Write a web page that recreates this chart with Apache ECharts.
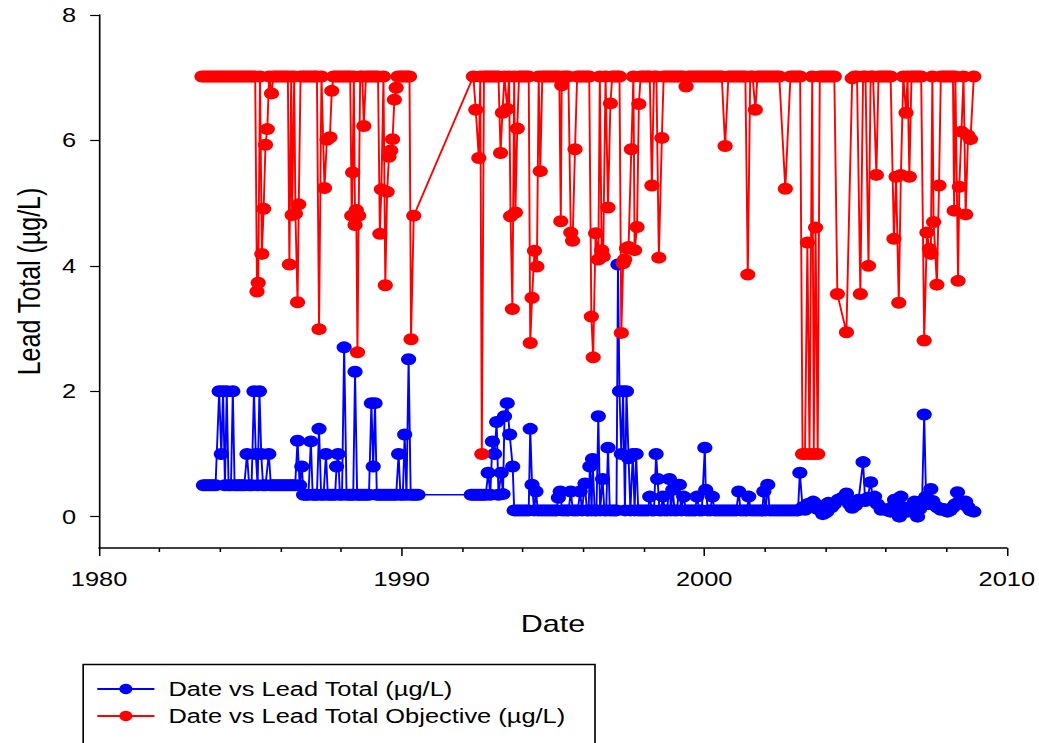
<!DOCTYPE html>
<html>
<head>
<meta charset="utf-8">
<script src="https://cdn.jsdelivr.net/npm/echarts@6/dist/echarts.min.js"></script>
<style>
html,body{margin:0;padding:0;background:#fff;}
#wrap{width:1039px;height:743px;overflow:hidden;position:relative;background:#fff;}
#chart{width:818px;height:743px;transform:scaleX(1.27);transform-origin:0 0;}
</style>
</head>
<body>
<div id="wrap"><div id="chart"></div></div>
<script>
// ---- Data (decimal year, µg/L) ----
const xTickValues = [1980, 1990, 2000, 2010];
const yTickValues = [0, 2, 4, 6, 8];
const seriesNames = ['Date vs Lead Total (µg/L)', 'Date vs Lead Total Objective (µg/L)'];

const leadTotal = [
  [1983.45,0.5],[1983.53,0.5],[1983.61,0.5],[1983.69,0.5],[1983.77,0.5],[1983.85,0.5],
  [1983.97,2.0],[1984.04,1.0],[1984.10,2.0],[1984.16,0.5],[1984.22,2.0],[1984.28,0.5],
  [1984.36,0.5],[1984.42,2.0],[1984.48,0.5],[1984.56,0.5],[1984.64,0.5],[1984.72,0.5],
  [1984.80,0.5],[1984.89,1.0],[1984.96,0.5],[1985.04,0.5],[1985.12,2.0],[1985.18,1.0],
  [1985.24,0.5],[1985.30,2.0],[1985.36,1.0],[1985.42,0.5],[1985.50,0.5],[1985.61,1.0],
  [1985.68,0.5],[1985.76,0.5],[1985.84,0.5],[1985.92,0.5],[1986.00,0.5],[1986.08,0.5],
  [1986.16,0.5],[1986.24,0.5],[1986.32,0.5],[1986.40,0.5],[1986.48,0.5],[1986.56,1.21],
  [1986.63,0.5],[1986.70,0.8],[1986.76,0.35],[1986.84,0.35],[1986.92,0.35],[1987.00,1.20],
  [1987.06,0.35],[1987.14,0.35],[1987.20,0.35],[1987.27,1.40],[1987.34,0.35],[1987.42,0.35],
  [1987.50,1.00],[1987.56,0.35],[1987.64,0.35],[1987.72,0.35],[1987.80,0.35],[1987.85,0.80],
  [1987.90,1.00],[1987.96,0.35],[1988.03,0.35],[1988.10,2.70],[1988.18,0.35],[1988.26,0.35],
  [1988.34,0.35],[1988.40,0.35],[1988.46,2.31],[1988.53,0.35],[1988.60,0.35],[1988.68,0.35],
  [1988.76,0.35],[1988.84,0.35],[1988.92,0.35],[1989.00,1.81],[1989.06,0.80],[1989.12,1.81],
  [1989.18,0.35],[1989.26,0.35],[1989.34,0.35],[1989.42,0.35],[1989.50,0.35],[1989.58,0.35],
  [1989.66,0.35],[1989.74,0.35],[1989.82,0.35],[1989.90,1.00],[1989.96,0.35],[1990.04,0.35],
  [1990.10,1.31],[1990.16,0.35],[1990.23,2.51],[1990.30,0.35],[1990.38,0.35],[1990.46,0.35],
  [1990.54,0.35],
  [1992.30,0.35],[1992.38,0.35],[1992.46,0.35],[1992.54,0.35],[1992.62,0.35],[1992.70,0.35],
  [1992.78,0.35],[1992.86,0.70],[1992.93,0.35],[1993.00,1.20],[1993.07,1.00],[1993.14,1.51],
  [1993.20,0.35],[1993.29,0.70],[1993.35,0.36],[1993.40,1.60],[1993.49,1.81],[1993.57,1.31],
  [1993.67,0.80],[1993.72,0.10],[1993.80,0.10],[1993.88,0.10],[1993.96,0.10],[1994.04,0.10],
  [1994.12,0.10],[1994.20,0.10],[1994.25,1.40],[1994.31,0.51],[1994.38,0.10],[1994.44,0.40],
  [1994.50,0.10],[1994.58,0.10],[1994.66,0.10],[1994.74,0.10],[1994.82,0.10],[1994.90,0.10],
  [1994.98,0.10],[1995.06,0.10],[1995.12,0.10],[1995.18,0.30],[1995.24,0.40],[1995.30,0.10],
  [1995.38,0.10],[1995.46,0.10],[1995.52,0.10],[1995.59,0.40],[1995.66,0.10],[1995.74,0.10],
  [1995.82,0.10],[1995.90,0.40],[1995.96,0.10],[1996.06,0.53],[1996.12,0.10],[1996.18,0.10],
  [1996.22,0.80],[1996.28,0.10],[1996.31,0.92],[1996.38,0.10],[1996.44,0.10],[1996.50,1.60],
  [1996.56,0.10],[1996.64,0.60],[1996.70,0.10],[1996.76,0.10],[1996.82,1.10],[1996.88,0.10],
  [1996.96,0.10],[1997.04,0.10],[1997.10,0.10],[1997.15,4.02],[1997.20,2.00],[1997.26,1.00],
  [1997.32,2.00],[1997.38,0.10],[1997.43,2.00],[1997.50,0.93],[1997.56,0.10],[1997.64,1.00],
  [1997.70,0.10],[1997.75,1.00],[1997.82,0.10],[1997.90,0.10],[1997.98,0.10],[1998.06,0.10],
  [1998.14,0.10],[1998.20,0.32],[1998.27,0.10],[1998.34,0.10],[1998.41,1.00],[1998.46,0.60],
  [1998.52,0.10],[1998.58,0.10],[1998.63,0.32],[1998.70,0.10],[1998.78,0.10],[1998.85,0.60],
  [1998.90,0.10],[1998.96,0.43],[1999.02,0.10],[1999.10,0.10],[1999.18,0.51],[1999.24,0.10],
  [1999.32,0.32],[1999.40,0.10],[1999.48,0.10],[1999.56,0.10],[1999.64,0.10],[1999.70,0.10],
  [1999.76,0.32],[1999.84,0.10],[1999.92,0.10],[2000.02,1.10],[2000.05,0.43],[2000.12,0.10],
  [2000.20,0.10],[2000.27,0.32],[2000.34,0.10],[2000.42,0.10],[2000.50,0.10],[2000.58,0.10],
  [2000.66,0.10],[2000.74,0.10],[2000.82,0.10],[2000.90,0.10],[2000.98,0.10],[2001.06,0.10],
  [2001.14,0.40],[2001.20,0.10],[2001.28,0.10],[2001.36,0.10],[2001.42,0.10],[2001.47,0.32],
  [2001.54,0.10],[2001.62,0.10],[2001.70,0.10],[2001.78,0.10],[2001.86,0.10],[2001.92,0.10],
  [2001.97,0.40],[2002.03,0.10],[2002.10,0.51],[2002.16,0.10],[2002.24,0.10],[2002.32,0.10],
  [2002.40,0.10],[2002.48,0.10],[2002.56,0.10],[2002.64,0.10],[2002.72,0.10],[2002.80,0.10],
  [2002.88,0.10],[2002.96,0.10],[2003.04,0.10],[2003.10,0.10],[2003.16,0.70],[2003.25,0.15],
  [2003.33,0.11],[2003.42,0.20],[2003.50,0.15],[2003.60,0.24],[2003.68,0.20],[2003.75,0.12],
  [2003.85,0.10],[2003.92,0.04],[2003.99,0.06],[2004.05,0.08],[2004.10,0.22],[2004.20,0.15],
  [2004.30,0.20],[2004.43,0.27],[2004.55,0.30],[2004.70,0.37],[2004.80,0.20],[2004.89,0.14],
  [2005.00,0.18],[2005.10,0.27],[2005.25,0.87],[2005.32,0.25],[2005.40,0.30],[2005.50,0.55],
  [2005.57,0.30],[2005.63,0.32],[2005.72,0.20],[2005.85,0.11],[2005.95,0.12],[2006.05,0.10],
  [2006.15,0.08],[2006.22,0.15],[2006.29,0.27],[2006.37,0.20],[2006.45,0.00],[2006.50,0.32],
  [2006.58,0.15],[2006.65,0.10],[2006.73,0.08],[2006.82,0.12],[2006.90,0.15],[2006.95,0.24],
  [2007.05,0.00],[2007.12,0.12],[2007.20,0.25],[2007.27,1.63],[2007.33,0.32],[2007.41,0.20],
  [2007.49,0.44],[2007.55,0.25],[2007.60,0.19],[2007.70,0.15],[2007.82,0.11],[2007.92,0.12],
  [2008.04,0.08],[2008.12,0.10],[2008.22,0.15],[2008.30,0.20],[2008.37,0.39],[2008.45,0.25],
  [2008.55,0.20],[2008.64,0.24],[2008.72,0.15],[2008.80,0.10],[2008.91,0.08]
];

const leadObjective = [
  [1983.40,7.02],[1983.48,7.02],[1983.56,7.02],[1983.64,7.02],[1983.72,7.02],[1983.80,7.02],
  [1983.88,7.02],[1983.96,7.02],[1984.04,7.02],[1984.12,7.02],[1984.20,7.02],[1984.28,7.02],
  [1984.36,7.02],[1984.44,7.02],[1984.52,7.02],[1984.60,7.02],[1984.68,7.02],[1984.76,7.02],
  [1984.84,7.02],[1984.92,7.02],[1985.00,7.02],[1985.08,7.02],[1985.16,7.02],[1985.22,3.59],
  [1985.26,3.73],[1985.32,7.02],[1985.38,4.19],[1985.44,4.91],[1985.50,5.93],[1985.56,6.18],
  [1985.62,7.02],[1985.70,6.75],[1985.76,7.02],[1985.84,7.02],[1985.92,7.02],[1986.00,7.02],
  [1986.08,7.02],[1986.16,7.02],[1986.24,7.02],[1986.29,4.02],[1986.35,7.02],[1986.38,4.81],
  [1986.45,7.02],[1986.49,4.83],[1986.56,3.42],[1986.60,4.98],[1986.66,7.02],[1986.74,7.02],
  [1986.82,7.02],[1986.90,7.02],[1986.98,7.02],[1987.06,7.02],[1987.14,7.02],[1987.20,7.02],
  [1987.27,2.99],[1987.35,7.02],[1987.45,5.24],[1987.53,6.01],[1987.63,6.05],[1987.69,6.79],
  [1987.75,7.02],[1987.83,7.02],[1987.91,7.02],[1987.99,7.02],[1988.07,7.02],[1988.15,7.02],
  [1988.23,7.02],[1988.30,7.02],[1988.35,4.80],[1988.38,5.49],[1988.42,7.02],[1988.46,4.65],
  [1988.50,4.89],[1988.54,2.62],[1988.58,4.80],[1988.63,7.02],[1988.70,7.02],[1988.75,6.23],
  [1988.82,7.02],[1988.90,7.02],[1988.98,7.02],[1989.06,7.02],[1989.14,7.02],[1989.22,7.02],
  [1989.28,4.51],[1989.33,5.22],[1989.40,7.02],[1989.46,3.69],[1989.52,5.18],[1989.58,5.74],
  [1989.64,5.84],[1989.70,6.02],[1989.76,6.65],[1989.82,6.84],[1989.88,7.02],[1989.96,7.02],
  [1990.04,7.02],[1990.12,7.02],[1990.20,7.02],[1990.26,7.02],[1990.31,2.83],[1990.40,4.80],
  [1992.37,7.02],[1992.45,6.49],[1992.55,5.72],[1992.60,7.02],[1992.65,1.00],[1992.72,7.02],
  [1992.80,7.02],[1992.88,7.02],[1992.96,7.02],[1993.04,7.02],[1993.12,7.02],[1993.20,7.02],
  [1993.27,5.80],[1993.33,6.44],[1993.40,7.02],[1993.49,6.50],[1993.55,7.02],[1993.60,4.79],
  [1993.66,3.31],[1993.72,7.02],[1993.76,4.85],[1993.82,6.19],[1993.88,7.02],[1993.96,7.02],
  [1994.04,7.02],[1994.12,7.02],[1994.20,7.02],[1994.25,2.77],[1994.31,3.49],[1994.39,4.24],
  [1994.47,3.99],[1994.53,7.02],[1994.58,5.51],[1994.65,7.02],[1994.73,7.02],[1994.81,7.02],
  [1994.89,7.02],[1994.97,7.02],[1995.05,7.02],[1995.13,7.02],[1995.21,7.02],[1995.26,4.71],
  [1995.29,6.88],[1995.35,7.02],[1995.43,7.02],[1995.51,7.02],[1995.59,4.53],[1995.65,4.40],
  [1995.73,5.86],[1995.80,7.02],[1995.88,7.02],[1995.96,7.02],[1996.04,7.02],[1996.12,7.02],
  [1996.20,7.02],[1996.27,3.19],[1996.33,2.54],[1996.41,4.52],[1996.50,4.10],[1996.55,7.02],
  [1996.61,4.25],[1996.66,4.15],[1996.74,7.02],[1996.82,4.93],[1996.90,6.59],[1996.96,7.02],
  [1997.04,7.02],[1997.12,7.02],[1997.20,7.02],[1997.26,2.93],[1997.32,4.04],[1997.37,4.10],
  [1997.43,4.28],[1997.50,4.30],[1997.59,5.86],[1997.66,7.02],[1997.70,4.25],[1997.78,4.62],
  [1997.84,6.58],[1997.90,7.02],[1997.98,7.02],[1998.06,7.02],[1998.14,7.02],[1998.20,7.02],
  [1998.27,5.28],[1998.34,7.02],[1998.42,7.02],[1998.50,4.13],[1998.60,6.04],[1998.66,7.02],
  [1998.74,7.02],[1998.82,7.02],[1998.90,7.02],[1998.98,7.02],[1999.06,7.02],[1999.14,7.02],
  [1999.22,7.02],[1999.30,7.02],[1999.40,6.86],[1999.48,7.02],[1999.56,7.02],[1999.64,7.02],
  [1999.72,7.02],[1999.80,7.02],[1999.88,7.02],[1999.96,7.02],[2000.04,7.02],[2000.12,7.02],
  [2000.20,7.02],[2000.28,7.02],[2000.36,7.02],[2000.44,7.02],[2000.52,7.02],[2000.58,7.02],
  [2000.69,5.91],[2000.80,7.02],[2000.88,7.02],[2000.96,7.02],[2001.04,7.02],[2001.12,7.02],
  [2001.20,7.02],[2001.28,7.02],[2001.36,7.02],[2001.44,3.86],[2001.52,7.02],[2001.60,7.02],
  [2001.69,6.49],[2001.76,7.02],[2001.84,7.02],[2001.92,7.02],[2002.00,7.02],[2002.08,7.02],
  [2002.16,7.02],[2002.24,7.02],[2002.32,7.02],[2002.40,7.02],[2002.48,7.02],[2002.68,5.23],
  [2002.85,7.02],[2002.93,7.02],[2003.01,7.02],[2003.10,7.02],[2003.17,7.02],[2003.25,1.00],
  [2003.33,1.00],[2003.41,4.37],[2003.48,1.00],[2003.57,7.02],[2003.62,1.00],[2003.68,4.61],
  [2003.75,1.00],[2003.82,7.02],[2003.90,7.02],[2003.98,7.02],[2004.06,7.02],[2004.14,7.02],
  [2004.22,7.02],[2004.30,7.02],[2004.40,3.55],[2004.70,2.94],[2004.89,6.99],[2004.97,7.02],
  [2005.05,7.02],[2005.16,3.55],[2005.25,7.02],[2005.33,7.02],[2005.43,4.00],[2005.50,7.02],
  [2005.58,7.02],[2005.69,5.45],[2005.76,7.02],[2005.84,7.02],[2005.92,7.02],[2006.00,7.02],
  [2006.08,7.02],[2006.16,7.02],[2006.27,4.43],[2006.34,5.42],[2006.43,3.41],[2006.50,5.45],
  [2006.58,7.02],[2006.67,6.44],[2006.72,7.02],[2006.78,5.42],[2006.85,7.02],[2006.93,7.02],
  [2007.01,7.02],[2007.09,7.02],[2007.17,7.02],[2007.27,2.81],[2007.36,4.53],[2007.44,4.27],
  [2007.49,4.19],[2007.54,7.02],[2007.58,4.70],[2007.69,3.70],[2007.76,5.28],[2007.82,7.02],
  [2007.90,7.02],[2007.98,7.02],[2008.06,7.02],[2008.14,7.02],[2008.22,7.02],[2008.26,4.88],
  [2008.30,7.02],[2008.39,3.76],[2008.43,5.26],[2008.50,6.14],[2008.57,7.02],[2008.64,4.82],
  [2008.72,6.08],[2008.80,6.02],[2008.91,7.02]
];

// ---- Chart ----
const FONT = '"Liberation Sans", Arial, sans-serif';
const chart = echarts.init(document.getElementById('chart'), null, {renderer: 'svg'});

const option = {
  animation: false,
  backgroundColor: '#ffffff',
  textStyle: {fontFamily: FONT, color: '#000'},
  grid: {left: 78, top: 15, width: 719.7, height: 533, containLabel: false},
  xAxis: {
    type: 'value',
    min: 1980, max: 2010, interval: 10,
    name: 'Date', nameLocation: 'middle', nameGap: 64,
    nameTextStyle: {fontSize: 24, color: '#000', fontFamily: FONT},
    axisLine: {show: true, onZero: false, lineStyle: {color: '#000', width: 1.5}},
    axisTick: {show: true, length: 8, lineStyle: {color: '#000', width: 1.2}, customValues: xTickValues},
    minorTick: {show: true, splitNumber: 5, length: 4, lineStyle: {color: '#000', width: 1.2}},
    axisLabel: {fontSize: 20, color: '#000', margin: 21, fontFamily: FONT, customValues: xTickValues,
      formatter: function (v) { return String(Math.round(v)); }},
    splitLine: {show: false}
  },
  yAxis: {
    type: 'value',
    min: -0.5, max: 8,
    name: 'Lead Total (µg/L)', nameLocation: 'middle', nameGap: 43,
    nameTextStyle: {fontSize: 25, color: '#000', fontFamily: FONT},
    axisLine: {show: true, onZero: false, lineStyle: {color: '#000', width: 1.3}},
    axisTick: {show: true, length: 7, lineStyle: {color: '#000', width: 1.2}, customValues: yTickValues},
    axisLabel: {fontSize: 20, color: '#000', margin: 18, fontFamily: FONT, customValues: yTickValues,
      formatter: function (v) { return String(Math.round(v)); }},
    splitLine: {show: false}
  },
  legend: {
    orient: 'vertical',
    left: 75.6, top: 679,
    padding: 0,
    itemWidth: 45, itemHeight: 13, itemGap: 7,
    textStyle: {fontSize: 20, color: '#000', fontFamily: FONT, padding: [0, 0, 0, 6]},
    data: seriesNames
  },
  graphic: [{
    type: 'rect', left: 63, top: 662,
    shape: {width: 403, height: 120},
    style: {fill: 'none', stroke: '#000', lineWidth: 1.3},
    silent: true
  }],
  series: [
    {
      name: seriesNames[0], type: 'line', data: leadTotal,
      symbol: 'circle', symbolSize: 12, showAllSymbol: true,
      itemStyle: {color: '#0000ff'},
      lineStyle: {color: '#0000ff', width: 1.5},
      emphasis: {disabled: true}, z: 2
    },
    {
      name: seriesNames[1], type: 'line', data: leadObjective,
      symbol: 'circle', symbolSize: 12, showAllSymbol: true,
      itemStyle: {color: '#ff0000'},
      lineStyle: {color: '#ff0000', width: 1.5},
      emphasis: {disabled: true}, z: 3
    }
  ]
};
chart.setOption(option);
</script>
</body>
</html>
